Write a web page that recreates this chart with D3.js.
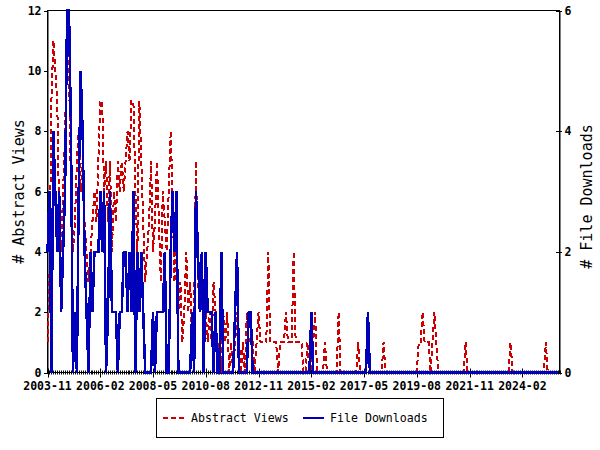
<!DOCTYPE html>
<html><head><meta charset="utf-8">
<script src="https://cdn.jsdelivr.net/npm/d3@7"></script>
<style>
body{margin:0;background:#fff;}
svg{display:block;}
</style></head>
<body><svg id="c" width="600" height="450"></svg>
<script>
// ---- data ----
const startMonth = "2003-11";
const tickLabels = ["2003-11","2006-02","2008-05","2010-08","2012-11","2015-02","2017-05","2019-08","2021-11","2024-02"];
const leftTicks = [0,2,4,6,8,10,12];
const rightTicks = [0,2,4,6];
const seriesNames = ["Abstract Views","File Downloads"];
const abstractViews = [
 1,3,9,11,10,9,5,4,6,8,
 11,10,6,4,5,7,8,6,7,5,
 4,3,4,5,6,5,7,9,9,6,
 7,5,7,4,6,5,7,6,7,6,
 7,8,7,9,9,6,4,9,7,5,
 3,4,5,7,4,5,7,5,3,6,
 5,4,6,8,6,3,5,2,3,1,
 2,4,2,3,1,2,7,3,2,3,
 1,2,1,2,1,3,2,0,1,0,
 2,1,2,0,1,0,1,2,1,0,
 1,0,2,1,1,1,0,1,2,1,
 1,1,1,4,1,1,1,1,0,1,
 1,1,2,1,1,1,4,1,1,1,
 1,0,0,1,0,0,1,2,0,0,
 0,0,1,0,0,0,0,0,0,2,
 0,0,0,0,0,0,0,0,0,1,
 0,0,0,0,0,0,0,0,0,0,
 0,0,1,0,0,0,0,0,0,0,
 0,0,0,0,0,0,0,0,0,0,
 1,1,2,1,1,1,0,1,2,1,
 0,0,0,0,0,0,0,0,0,0,
 0,0,0,0,1,0,0,0,0,0,
 0,0,0,0,0,0,0,0,0,0,
 0,0,0,0,0,0,0,1,0,0,
 0,0,0,0,0,0,0,0,0,0,
 0,0,0,0,0,1,0,0,0,0,
 0,0
];
const fileDownloads = [
 2,3,0,4,3,2,3,1,2,3,
 6,6,4,0,1,0,3,5,4,2,
 1,0,2,1,2,2,2,3,2,3,
 0,1,3,1,1,1,0,1,1,2,
 2,1,2,1,3,0,2,1,2,1,
 0,0,0,0,1,0,1,1,1,1,
 2,0,0,2,3,2,3,0,0,0,
 0,0,0,0,1,0,3,2,1,2,
 0,2,1,1,1,0,1,0,0,2,
 0,0,0,0,0,0,1,2,0,0,
 0,0,0,1,1,0,0,0,0,0,
 0,0,0,0,0,0,0,0,0,0,
 0,0,0,0,0,0,0,0,0,0,
 0,0,0,0,0,1,0,0,0,0,
 0,0,0,0,0,0,0,0,0,0,
 0,0,0,0,0,0,0,0,0,0,
 0,0,0,0,1,0,0,0,0,0,
 0,0,0,0,0,0,0,0,0,0,
 0,0,0,0,0,0,0,0,0,0,
 0,0,0,0,0,0,0,0,0,0,
 0,0,0,0,0,0,0,0,0,0,
 0,0,0,0,0,0,0,0,0,0,
 0,0,0,0,0,0,0,0,0,0,
 0,0,0,0,0,0,0,0,0,0,
 0,0,0,0,0,0,0,0,0,0,
 0,0,0,0,0,0,0,0,0,0,
 0,0
];

// ---- layout ----
const L = 47.5, R = 559.5, T = 10.5, B = 372.5;
const parse = d3.timeParse("%Y-%m");
const start = parse(startMonth);
const months = abstractViews.map((_, i) => d3.timeMonth.offset(start, i));
const x = d3.scaleTime().domain([start, d3.timeMonth.offset(start, 262)]).range([L, R]);
const yL = d3.scaleLinear().domain([0, 12]).range([B, T]);
const yR = d3.scaleLinear().domain([0, 6]).range([B, T]);

const svg = d3.select("#c");
const RED = "#cc0000", BLUE = "#0000bb";
const monoB = "'DejaVu Sans Mono', monospace";

// frame
svg.append("rect").attr("x", L).attr("y", T).attr("width", R - L).attr("height", B - T)
  .attr("fill", "none").attr("stroke", "#000").attr("stroke-width", 1).attr("shape-rendering", "crispEdges");

// left axis
const gL = svg.append("g").attr("transform", `translate(${L},0)`)
  .call(d3.axisLeft(yL).tickValues(leftTicks).tickFormat(d3.format("d")).tickSize(4).tickSizeOuter(0).tickPadding(2));
// right axis
const gR = svg.append("g").attr("transform", `translate(${R},0)`)
  .call(d3.axisRight(yR).tickValues(rightTicks).tickFormat(d3.format("d")).tickSize(2).tickSizeOuter(0).tickPadding(3));
gR.selectAll(".tick line").attr("x1", -4);
[gL, gR].forEach(g => {
  g.select(".domain").attr("stroke", "#000");
  g.selectAll(".tick line").attr("stroke", "#000").attr("shape-rendering", "crispEdges");
  g.selectAll(".tick text").attr("font-family", monoB).attr("font-weight", "bold")
    .attr("font-size", "11.5px").attr("fill", "#000");
});

// x axis: monthly minor ticks + major labelled ticks
const gX = svg.append("g");
gX.selectAll("line.minor").data(d3.range(0, 263).map(i => d3.timeMonth.offset(start, i)))
  .join("line").attr("class", "minor")
  .attr("x1", d => Math.round(x(d)) + 0.5).attr("x2", d => Math.round(x(d)) + 0.5)
  .attr("y1", B - 2).attr("y2", B + 2).attr("stroke", "#000").attr("stroke-width", 1);
const majors = tickLabels.map(parse);
gX.selectAll("line.major").data(majors).join("line").attr("class", "major")
  .attr("x1", d => Math.round(x(d)) + 0.5).attr("x2", d => Math.round(x(d)) + 0.5)
  .attr("y1", B - 4).attr("y2", B + 5).attr("stroke", "#000").attr("stroke-width", 1);
gX.selectAll("text").data(tickLabels).join("text")
  .attr("x", d => x(parse(d))).attr("y", 390).attr("text-anchor", "middle")
  .attr("font-family", monoB).attr("font-weight", "bold").attr("font-size", "11.5px")
  .text(d => d);

// series
const lineV = d3.line().x((d, i) => x(months[i])).y(d => yL(d));
const lineD = d3.line().x((d, i) => x(months[i])).y(d => yR(d));
svg.append("path").datum(abstractViews).attr("d", lineV).attr("fill", "none")
  .attr("stroke", RED).attr("stroke-width", 2).attr("stroke-dasharray", "5,3")
  .attr("shape-rendering", "crispEdges");
svg.append("path").datum(fileDownloads).attr("d", lineD).attr("fill", "none")
  .attr("stroke", BLUE).attr("stroke-width", 2.5)
  .attr("shape-rendering", "crispEdges");

// axis titles
svg.append("text").attr("transform", `translate(24,${(T + B) / 2}) rotate(-90)`)
  .attr("text-anchor", "middle").attr("font-family", monoB).attr("font-size", "15px")
  .text("# " + seriesNames[0]);
svg.append("text").attr("transform", `translate(592,${(T + B) / 2 + 5}) rotate(-90)`)
  .attr("text-anchor", "middle").attr("font-family", monoB).attr("font-size", "15px")
  .text("# " + seriesNames[1]);

// legend
const lg = svg.append("g");
lg.append("rect").attr("x", 156.5).attr("y", 398.5).attr("width", 287).attr("height", 39)
  .attr("fill", "#fff").attr("stroke", "#000").attr("stroke-width", 1).attr("shape-rendering", "crispEdges");
const items = [
  {name: seriesNames[0], color: RED, dash: "5,3", x0: 163, tx: 191},
  {name: seriesNames[1], color: BLUE, dash: null, x0: 303, tx: 330}
];
items.forEach(it => {
  lg.append("line").attr("x1", it.x0).attr("x2", it.x0 + 21).attr("y1", 417.5).attr("y2", 417.5)
    .attr("stroke", it.color).attr("stroke-width", 2).attr("stroke-dasharray", it.dash)
    .attr("shape-rendering", "crispEdges");
  lg.append("text").attr("x", it.tx).attr("y", 422).attr("font-family", monoB)
    .attr("font-size", "11.6px").text(it.name);
});
</script></body></html>
